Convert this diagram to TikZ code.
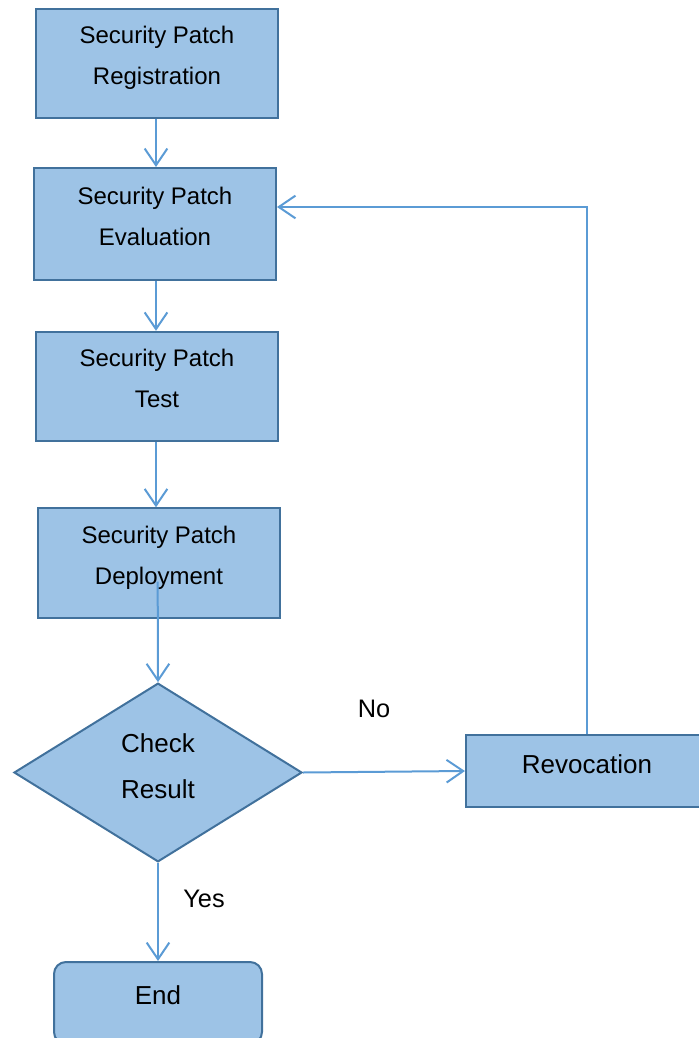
\documentclass[tikz,border=0pt]{standalone}
\usepackage{fontspec}
\setmainfont{Liberation Sans}
\usetikzlibrary{arrows.meta,shapes.geometric,calc}

\definecolor{boxfill}{HTML}{9DC3E6}
\definecolor{boxline}{HTML}{41719C}
\definecolor{flowline}{HTML}{5B9BD5}

\begin{document}
\begin{tikzpicture}[x=0.75pt,y=-0.75pt,
    stepbox/.style={draw=boxline, fill=boxfill, line width=1.5pt, align=center,
      minimum width=181.5pt, minimum height=82pt, inner sep=0pt, text depth=12pt,
      font=\fontsize{18pt}{30.75pt}\selectfont},
    decision/.style={diamond, draw=boxline, fill=boxfill, line width=1.5pt, align=center,
      minimum width=216pt, minimum height=134pt, inner sep=0pt, aspect=1.6, text depth=10pt,
      font=\fontsize{19.5pt}{34.5pt}\selectfont},
    flow/.style={draw=flowline, line width=1.5pt,
      -{Straight Barb[length=12.5pt,width=17pt,line width=1.5pt]}},
    tag/.style={font=\fontsize{19pt}{23pt}\selectfont}]
  \useasboundingbox (0,0) rectangle (699,1038);

  % main chain of steps
  \node[stepbox] (reg) at (157,63.5) {Security Patch\\Registration};
  \node[stepbox, minimum height=84pt] (eval) at (155,224) {Security Patch\\Evaluation};
  \node[stepbox] (test) at (157,386.5) {Security Patch\\Test};
  \node[stepbox] (deploy) at (159,563) {Security Patch\\Deployment};
  \node[decision] (check) at (158,772.5) {Check\\Result};
  \node[stepbox, minimum height=54pt, text depth=10.5pt, font=\fontsize{19.5pt}{23pt}\selectfont]
    (revoc) at (587,771) {Revocation};
  \node[stepbox, rounded corners=9pt, minimum width=156pt, minimum height=61.5pt,
    text depth=12pt, font=\fontsize{19.5pt}{23pt}\selectfont] (end) at (158,1003) {End};

  % connectors
  \draw[flow] ([xshift=-0.75pt]reg.south) -- ([xshift=-0.75pt]reg.south |- eval.north);
  \draw[flow] ([xshift=0.75pt]eval.south) -- ([xshift=0.75pt]eval.south |- test.north);
  \draw[flow] ([xshift=-0.75pt]test.south) -- ([xshift=-0.75pt]test.south |- deploy.north);
  \draw[flow] ([xshift=-1pt,yshift=-14pt]deploy.center) -- (check.north);
  \draw[flow] (check.east) -- (revoc.west);
  \draw[flow] (revoc.north) |- ([yshift=12.75pt]eval.east);
  \draw[flow] (check.south) -- (end.north);

  \node[tag] (no) at (374,709) {No};
  \node[tag] (yes) at (204,899) {Yes};
\end{tikzpicture}
\end{document}
